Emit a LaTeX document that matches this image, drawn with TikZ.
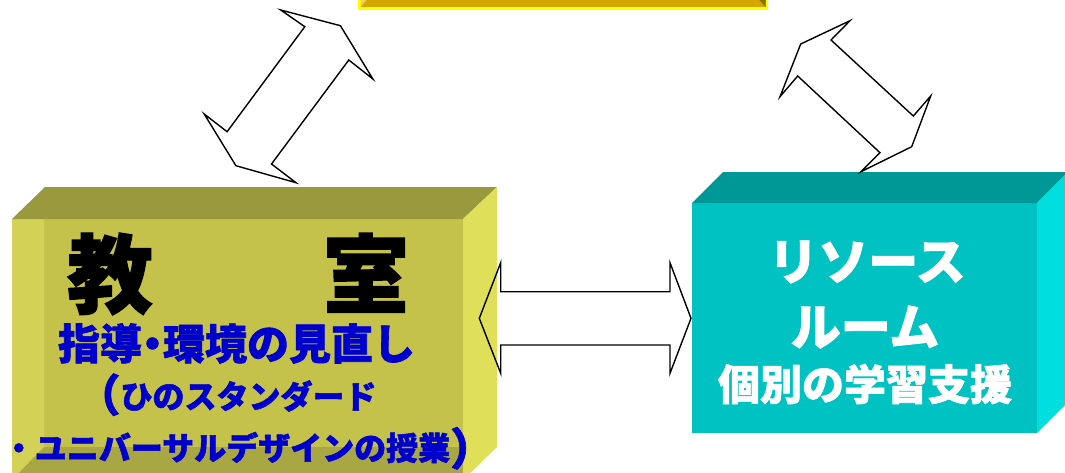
\documentclass[tikz,border=0pt]{standalone}
\usepackage{fontspec}
\setmainfont{Noto Sans CJK JP}[BoldFeatures={FakeBold=1.5}]
\definecolor{olTop}{HTML}{999A3E}
\definecolor{olFront}{HTML}{C4C24B}
\definecolor{olLeft}{HTML}{D4D256}
\definecolor{olBottom}{HTML}{A9A743}
\definecolor{olRight}{HTML}{E0DF5A}
\definecolor{tqTop}{HTML}{009896}
\definecolor{tqFront}{HTML}{00C2C2}
\definecolor{tqRight}{HTML}{00DEDE}
\definecolor{goldband}{HTML}{D2A800}
\definecolor{goldlight}{HTML}{F2D060}
\definecolor{golddark}{HTML}{8A7000}
\definecolor{topborder}{HTML}{FFFF00}
\definecolor{txtblue}{HTML}{0000CC}
\tikzset{
  blockarrow/.style={draw=black, line width=1.4pt, line join=miter, fill=none},
  lbl/.style={inner sep=0pt, font=\bfseries},
}
\begin{document}
\begin{tikzpicture}[x=1pt, y=-1pt]
\useasboundingbox (0,0) rectangle (1065,472);
\clip (0,0) rectangle (1065,472);
% top box (only its lower edge is visible)
\fill[topborder] (358,-14) rectangle (768,9.5);
\fill[goldband] (360.5,-14) rectangle (765.5,7);
\fill[goldlight] (360.5,7) -- (367.5,-1) -- (360.5,-1) -- cycle;
\fill[golddark] (765.5,7) -- (758.5,-1) -- (765.5,-1) -- cycle;
% left box (classroom)
\fill[olFront] (12,219) rectangle (463,480);
\fill[olLeft] (12,219) -- (44,219) -- (44,447) -- (12,480) -- cycle;
\fill[olBottom] (12,480) -- (44,447) -- (463,447) -- (463,480) -- cycle;
\fill[olTop] (12,219) -- (45,187) -- (497,187) -- (463,219) -- cycle;
\fill[olRight] (463,219) -- (497,187) -- (497,447) -- (463,480) -- cycle;
% right box (resource room)
\fill[tqFront] (692,203) rectangle (1037,433);
\fill[tqTop] (692,203) -- (723,172) -- (1068,172) -- (1037,203) -- cycle;
\fill[tqRight] (1037,203) -- (1068,172) -- (1068,402) -- (1037,433) -- cycle;
% texts
\node[lbl, font=\fontsize{86}{86}\selectfont\bfseries] (kyoshitsu) at (238,274) {教\hspace{170pt}室};
\node[lbl, text=txtblue, font=\fontsize{42}{42}\selectfont\bfseries] (shido) at (236.5,343.5) {指導\makebox[21pt]{・}環境の見直し};
\node[lbl, text=txtblue, font=\fontsize{32}{32}\selectfont\bfseries] (hino) at (248.5,396) {\llap{\raisebox{-3pt}[0pt][0pt]{\fontsize{44}{44}\selectfont （}}ひのスタンダード};
\node[lbl, text=txtblue, font=\fontsize{32}{32}\selectfont\bfseries] (ud) at (242.5,447.5) {\llap{・}ユニバーサルデザインの授業\rlap{\raisebox{-5pt}[0pt][0pt]{\fontsize{44}{44}\selectfont ）}}};
\node[lbl, text=white, font=\fontsize{50}{50}\selectfont\bfseries] (resource) at (867,262) {リソース};
\node[lbl, text=white, font=\fontsize{50}{50}\selectfont\bfseries] (room) at (865,327) {ルーム};
\node[lbl, text=white, font=\fontsize{42}{42}\selectfont\bfseries] (kobetsu) at (865,384) {個別の学習支援};
% double block arrows
\draw[blockarrow] (280.7,10) -- (304.8,26.7) -- (227.1,131.7) -- (204.2,114) -- (235.9,165.7) -- (296,182.7) -- (271.5,164) -- (348.8,60) -- (372.9,79) -- (340.4,25.7) -- cycle;
\draw[blockarrow] (850,20.7) -- (831,40) -- (913.3,116) -- (930.7,96) -- (911.7,146.7) -- (861,171.7) -- (880,152.7) -- (797.7,76) -- (780,96.7) -- (800.7,44) -- cycle;
\draw[blockarrow] (479.3,318.3) -- (500.7,262.7) -- (500.7,291.7) -- (670,291.7) -- (670,262.7) -- (691,318.3) -- (670,373.3) -- (670,345) -- (500.7,345) -- (500.7,373.3) -- cycle;
\end{tikzpicture}
\end{document}
